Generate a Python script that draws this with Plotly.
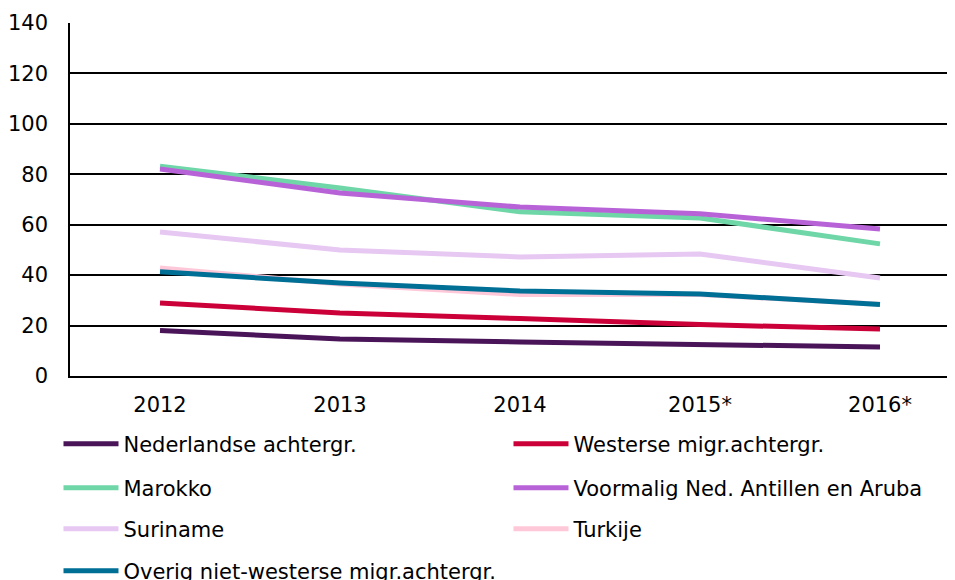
import plotly.graph_objects as go

years = ["2012", "2013", "2014", "2015*", "2016*"]
nederlandse = [18.0, 14.7, 13.5, 12.7, 11.5]
westerse = [29.0, 25.0, 22.8, 20.4, 18.6]
marokko = [83.2, 74.6, 65.1, 62.7, 52.4]
antillen = [82.1, 72.6, 67.0, 64.3, 58.3]
suriname = [57.1, 50.0, 47.2, 48.4, 38.9]
turkije = [42.8, 36.5, 32.3, 32.3, 28.5]
overig = [41.3, 36.9, 33.7, 32.5, 28.4]

series = [
    ("Nederlandse achtergr.", nederlandse, "#4a1459", "legend"),
    ("Westerse migr.achtergr.", westerse, "#cc0039", "legend"),
    ("Marokko", marokko, "#6fd6a8", "legend2"),
    ("Voormalig Ned. Antillen en Aruba", antillen, "#b862d8", "legend2"),
    ("Suriname", suriname, "#e6c8f2", "legend3"),
    ("Turkije", turkije, "#ffc8d8", "legend3"),
    ("Overig niet-westerse migr.achtergr.", overig, "#006f96", "legend4"),
]

fig = go.Figure()
for name, vals, col, leg in series:
    fig.add_trace(go.Scatter(x=list(range(len(years))), y=vals, name=name, mode="lines",
                             line=dict(color=col, width=5), legend=leg))

FS = 21
def leg(y):
    return dict(orientation="h", x=-0.013, y=y, xanchor="left", yanchor="middle",
                entrywidth=380, entrywidthmode="pixels", itemwidth=55,
                font=dict(size=FS, family="DejaVu Sans, Verdana, sans-serif", color="black"),
                bgcolor="rgba(0,0,0,0)")

fig.update_layout(
    width=947, height=572,
    margin=dict(l=62, r=0, t=15, b=204, autoexpand=False),
    paper_bgcolor="white", plot_bgcolor="white",
    font=dict(family="DejaVu Sans, Verdana, sans-serif", size=FS, color="black"),
    xaxis=dict(range=[-0.5, 4.4167], tickvals=list(range(len(years))), ticktext=years,
               showgrid=False, showline=True, linecolor="black", linewidth=1.5,
               ticks="", zeroline=False, fixedrange=True, ticklabelstandoff=9),
    yaxis=dict(range=[0, 140], dtick=20, showgrid=True, gridcolor="black", gridwidth=1.5,
               showline=True, linecolor="black", linewidth=1.5, ticks="", zeroline=False,
               ticklabelstandoff=16),
    legend=leg(-0.1926),
    legend2=leg(-0.3173),
    legend3=leg(-0.4334),
    legend4=leg(-0.5524),
    showlegend=True,
)

fig.write_html("out.html")
